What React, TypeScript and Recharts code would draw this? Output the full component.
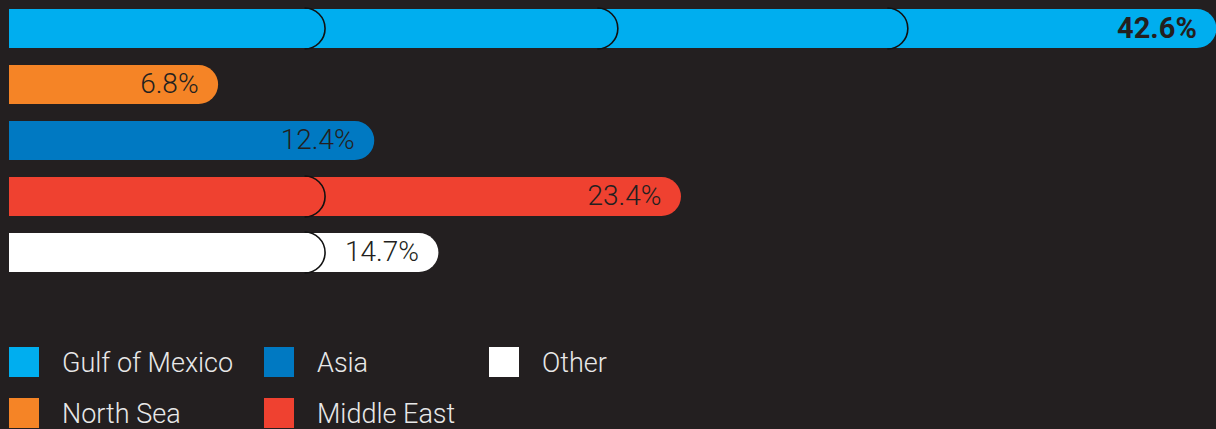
import React from "react";
import { BarChart, Bar, XAxis, YAxis, Legend, LabelList } from "recharts";

const categories = ["Gulf of Mexico", "North Sea", "Asia", "Middle East", "Other"];
const shares = [42.6, 6.8, 12.4, 23.4, 14.7];
const colors = ["#00aeef", "#f58426", "#0079c2", "#ef4130", "#ffffff"];
const segmentBreaks = [[10.6, 21.1, 31.5], [], [], [10.6], [10.6]];
const boldLabel = [true, false, false, false, false];

const BG = "#231f20";
const FONT = "Roboto, 'Noto Sans', sans-serif";

const data = categories.map((name, i) => ({
  name,
  value: shares[i],
  color: colors[i],
  breaks: segmentBreaks[i],
  bold: boldLabel[i],
}));

const PillShape = (props: any) => {
  const { x, y, width, height, payload } = props;
  const r = height / 2;
  const xe = x + width;
  const pxPer = width / payload.value;
  const d = `M${x},${y} H${xe} A${r},${r} 0 0 1 ${xe},${y + height} H${x} Z`;
  return (
    <g>
      <path d={d} fill={payload.color} />
      {payload.breaks.map((b: number, i: number) => {
        const xb = x + b * pxPer;
        return (
          <path
            key={i}
            d={`M${xb},${y - 1} A${r + 1},${r + 1} 0 0 1 ${xb},${y + height + 1}`}
            fill="none"
            stroke="#111"
            strokeWidth={1.6}
          />
        );
      })}
    </g>
  );
};

const ValueLabel = (props: any) => {
  const { x, y, width, height, index } = props;
  const d = data[index];
  return (
    <text
      x={x + width}
      y={y + height / 2 - 1}
      textAnchor="end"
      dominantBaseline="central"
      fill={BG}
      fontFamily={FONT}
      fontSize={d.bold ? 29 : 28}
      fontWeight={d.bold ? 700 : 300}
    >
      {d.value.toFixed(1)}%
    </text>
  );
};

const legendCols = [[0, 1], [2, 3], [4]];
const colX = [9, 264, 489];
const rowY = [347, 398];

const LegendContent = () => (
  <div style={{ position: "relative", width: 1216, height: 99 }}>
    {legendCols.map((col, ci) =>
      col.map((idx, ri) => (
        <div
          key={idx}
          style={{
            position: "absolute",
            left: colX[ci],
            top: rowY[ri] - 330,
            height: 30,
            display: "flex",
            alignItems: "center",
          }}
        >
          <div style={{ width: 30, height: 30, background: colors[idx] }} />
          <span
            style={{
              marginLeft: 23,
              color: "#e8e8e8",
              fontFamily: FONT,
              fontWeight: 300,
              fontSize: 27,
              whiteSpace: "nowrap",
              lineHeight: "30px",
              position: "relative",
              top: 1,
            }}
          >
            {categories[idx]}
          </span>
        </div>
      ))
    )}
  </div>
);

export default function App() {
  return (
    <div
      style={{
        position: "absolute",
        left: 0,
        top: 0,
        width: 1216,
        height: 429,
        background: BG,
        overflow: "hidden",
      }}
    >
      <BarChart
        width={1216}
        height={429}
        data={data}
        layout="vertical"
        margin={{ top: 0, right: 8, bottom: 50, left: 9 }}
        barSize={39}
      >
        <XAxis type="number" domain={[0, 43]} hide />
        <YAxis type="category" dataKey="name" hide width={0} />
        <Legend
          content={<LegendContent />}
          wrapperStyle={{ position: "absolute", left: 0, top: 330, width: 1216, height: 99 }}
        />
        <Bar dataKey="value" shape={<PillShape />} isAnimationActive={false}>
          <LabelList dataKey="value" content={<ValueLabel />} />
        </Bar>
      </BarChart>
    </div>
  );
}
